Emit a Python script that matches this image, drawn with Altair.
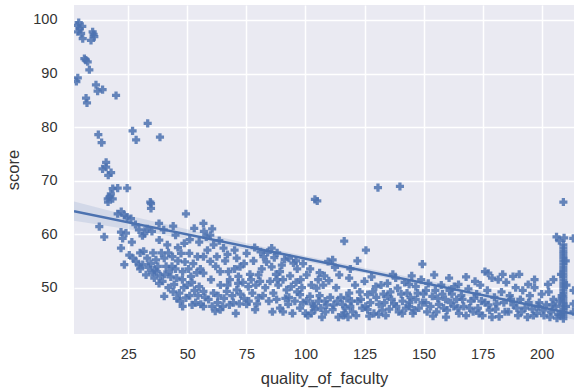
import altair as alt
import pandas as pd

# ---- data (quality_of_faculty, score) ----
top_left = [(3.5,99.0),(4.3,98.4),(5,97.5),(3.6,97.8),(4.0,99.5),(5.5,98.8),(9.9,97.8),(10.6,96.9),(9.2,96.2),(10.3,97.3),
            (5.7,96.5),(6.4,92.8),(7.8,92.2),(8.5,90.7),(7.0,92.5),(3.6,89.2),(3.0,88.5),(11.3,87.9),(12,86.7),(14.1,87.0),
            (7.1,85.4),(7.5,84.5),(19.8,85.9),(12.3,78.6),(13.7,77.1),(33.2,80.7),(26.8,79.3),(28.3,77.6),(38.4,78.1),
            (15.6,73.4),(14.1,72.2),(15.6,72.5),(17.7,71.5),(16.5,71.0),(18.4,68.5),(20.5,68.6),(24.5,68.6),(17,66.9),
            (18.4,66.6),(16.4,66.0),(34.3,66.0),(16.3,66.6),(17.6,67.5),(34.6,65.7),(34.6,64.8)]
left = [(49.4,63.8),(20.5,63.8),(23.3,63.5),(26.1,62.9),(24.5,63.2),(22,64.2),(12.7,61.4),(14.8,59.5),(21.9,60.4),
        (22.6,59.2),(21.9,57.4),(31.8,60.1),(31,59.7),(29.5,60.8),(33,61.0),(38.1,58.9),(48.7,58.3),(52.9,61.1),(40,60.8),
        (44,61.5),(45,59.8),(25.4,56.1),(28.3,54.9),(23.3,54.3),(31.1,54.3),(32.5,52.4),(36.7,55.2),(40.2,55.5),(43.7,55.8),
        (47.3,56.4),(50.8,56.4),(54.3,55.8),(36,53.3),(42.3,53),(39.5,51.2),(44.4,50.6),(47.9,51.5),(51.5,52.1),(46.6,49),
        (40.2,48.4),(49.4,48.1),(55.7,46.9),(27,55.5),(29.5,54.2),(30,53.5),(33.5,53.8),(34.5,54.5),(35,52.8),(37.5,54),
        (38.5,52.2),(41,54),(42,56.5),(43,52),(45,53.5),(46,55),(48,53),(49,54.8),(50,50.5),(52,51),(53,49.5),(54,52.8),
        (55,50.2),(44,49.2),(47,47.5),(51,48.5),(53.5,47.2),(42,50),(38,50.8),(36,51.8),(30,56.5),(26.5,58.5),(24,60.2),
        (28,61.8),(35,60.5),(38,62),(41.5,58),(46,57.5),(51,59),(55,58.5),(57,60.5),
        (31.5,56.8),(33,55.5),(35.5,56.5),(37,53),(39,56.5),(40.5,52.5),(43.5,54),(45.5,51.8),(48.5,50),(50.5,53.5),
        (52.5,54.5),(45.5,48),(48,46.5),(52,46.8),(54.5,48.5),(55.5,53.5)]
middle = [(104,66.5),(105,66.2),(56.8,62),(59.7,59.8),(65.3,57.4),(61.1,58),(56.8,55.8),(62.5,55.8),(59.7,54.9),
          (70.9,55.5),(75.1,56.4),(82.2,55.8),(85.7,57.4),(56.8,52.7),(63.9,53),(67.4,53),(72.3,53.9),(71.6,52.1),
          (80.1,52.4),(85.7,53.9),(89.2,53),(94.9,54.6),(91.2,55.3),(100.5,52.4),(105.4,51.5),(56.8,49.3),(61.1,49),
          (66.7,49.3),(70.9,49.6),(75.8,50.2),(80.8,51.2),(85,51.2),(86.4,49),(87.8,47.8),(92,49.6),(97.7,48.7),
          (101.9,48.4),(104.7,49.9),(56.8,46.5),(61.8,45.6),(63.9,45.9),(75.1,46.9),(78.7,45.9),(80.1,48.1),(89.2,46.2),
          (92.7,46.9),(97.7,46.2),(104,45.9),(108.3,47.5),(109.6,54.9),(58.5,57),(60,51.5),(62,54),(64,50.5),(65.5,48),
          (66,55),(68,51.5),(69,48.5),(70,53.5),(72.5,48.8),(73.5,51),(74,54.5),(76.5,52.5),(77.5,49),(78,55),(79,50.5),
          (81.5,53.5),(83,50),(83.5,54.8),(84,56.6),(86.8,55.6),(87.5,52.5),(88.5,50.5),(90,54.2),(90.5,51.5),(91.5,48),
          (93.5,52.2),(94,50.2),(95.5,47.5),(96,51),(96.5,53.5),(98.5,50),(99,47.2),(100,45.2),(102.5,50.5),(103,47),
          (106,48.5),(106.5,46.2),(107.5,50.5),(108.5,45.5),(59,47.8),(62.8,47.2),(67.8,46.8),(70.5,45.2),(72,47),
          (58,59.5),(60.5,61),(63.5,58.8),(67,56.2),(70,57),(78.5,57.5),(81,56.7),(88,56.5),(93,55.5),(96,55),(99,54.5),
          (102,53.5),(106,52.8),(108,52.2),
          (57.5,48.2),(60.5,46.5),(63,48.5),(65,46.5),(67,50.5),(69.5,47.2),(71.5,50.8),(74,48),(76,47.5),(77,51.5),
          (79.5,47),(82,48.5),(84.5,47.5),(86,45.5),(88,51.5),(90.5,45.5),(93,48.2),(94.5,45.2),(96.5,49.2),(98,51.5),
          (100.5,47.5),(102.5,45.2)]
right_mid = [(116.4,58.7),(125.6,57),(149.5,54.4),(154.5,52.4),(160.8,51.8),(111.5,55.2),(114.3,52.4),(118.5,51.8),
             (109.9,51.3),(111.5,45.9),(115.7,46.9),(116.4,45.3),(118.5,49),(122.1,47.5),(126.3,48.7),(126.3,45.9),
             (129.8,50.2),(131.2,46.9),(134.7,48.4),(134.7,50.8),(139,49.9),(141.1,47.5),(143.9,46.5),(146.7,47.8),
             (150.9,47.2),(153.7,48.4),(156.5,46.9),(159.3,47.8),(162.8,46.5),(143.9,50.6),(138.2,51.8),(146.7,50.2),
             (130.7,68.7),(140,68.9),(112.5,53.8),(113,50),(115,48.2),(116,44.8),(117,46.2),(119.5,47.5),(120,45.5),
             (121,50.5),(123,49.2),(124,46.2),(125,51.2),(127.5,47.2),(128,52),(129,45.2),(130,48.2),(132,50.5),
             (132.5,45.8),(133.5,47.2),(135.5,46),(136,49.2),(137,52.5),(137.5,47),(139.5,45.5),(140.5,48.8),(142,51),
             (142.5,46.2),(144.5,48.2),(145,52.2),(145.5,45.2),(147.5,49),(148,46.2),(149,51.5),(150,48.8),(151.5,45.5),
             (152,50.8),(155,49.5),(155.5,45.5),(157.5,50.5),(158,48.8),(160,45.8),(161,49.5),(163,50.2),(164,47.8),
             (165,45.2),(119,53.5),(122,55),(118,44.5),(114,44.5),
             (101,44.8),(103.5,46.5),(105.5,47.5),(107,44.5),(109,46.8),(110.5,48.2),(112,46.8),(113.5,47.5),(117.5,48),
             (119,46.5),(121.5,44.8),(123.5,47.8),(125.5,46.5),(127,44.7),(128.5,49.2),(131,45),(133,48.8),(134,44.8),
             (136.5,47.8),(138.5,46.5),(141,45.2),(143,49),(144,47.2),(146,45.8),(149.5,47.2),(151,49.5),(153,46.5),
             (154,44.7),(156,48),(158.5,46.2),(159.5,44.5),(161.5,47.2),(162,48.8),(164.5,46.2)]
right = [(177.4,52.7),(181.6,51.5),(187.9,52.1),(194.3,50.6),(202.7,50.6),(171.8,51.2),(164.8,50.6),(166,48.5),(167,46.5),
         (168,44.8),(169,49.8),(170,47.5),(171,45.5),(172.5,48.8),(173,46.2),(174,50.5),(175,44.8),(176,47.2),(177,49.5),
         (178,45.8),(179,51.8),(180,48.2),(180.5,46),(182,44.6),(183,49.2),(184,47.2),(185,51),(186,45.5),(186.5,48.5),
         (188,46.8),(189,50),(190,44.8),(191,47.8),(192,49.5),(193,46.2),(194,44.5),(195,48.5),(196,46),(197,50),
         (198,45.2),(199,47.2),(200,48.8),(201,44.8),(202,46.8),(203,49.2),(204,45.5),(205,47.8),(206,46.5),(207,45),
         (176,53),(183.5,52.5),(190.5,52.5),(197,51.5),(168,52),(205,51.5),
         (166.5,47.8),(169.5,46.2),(171.5,48),(173.5,45.2),(174.5,47.5),(177.5,46.8),(179,44.5),(181,47),(184.5,45.5),
         (187,47.8),(189.5,46.2),(191.5,45.5),(194.5,47.2),(196.5,44.8),(198.5,46.5),(200.5,45.8),(203.5,44.5),
         (204.5,46.8),(206.5,44.3),(207.5,47.5)]
column = [(209.2,66.0),(206.3,59.5),(209.5,59.3),(213.4,59.2),(207.5,58.8),
          (209.2,44.2),(209.2,44.8),(209.2,45.4),(209.2,46.0),(209.2,46.6),(209.2,47.2),(209.2,47.8),(209.2,48.4),
          (209.2,49.0),(209.2,49.6),(209.2,50.2),(209.2,50.8),(209.2,51.4),(209.2,52.0),(209.2,52.6),(209.2,53.2),
          (209.2,53.8),(209.2,54.4),(209.2,55.0),(209.2,55.6),(209.2,56.2),(209.2,56.8),(209.2,57.4),(209.2,58.0),
          (208.3,45.0),(210.3,46.5),(208.5,48.5),(210.5,50.5),(208.2,52.5),(210.2,55.0),(213.5,47.0),(213.5,49.5),
          (213.5,45.5)]

# regression line and confidence band
reg_x = [2, 213.7]
reg_y = [64.3, 45.1]
band_x = [2, 25, 50, 75, 100, 125, 150, 175, 200, 213.7]
band_lo = [62.5, 60.9, 59.1, 57.1, 54.9, 52.7, 50.3, 47.8, 45.4, 44.0]
band_hi = [66.1, 63.5, 60.9, 58.3, 55.9, 53.7, 51.5, 49.4, 47.4, 46.2]

pts = top_left + left + middle + right_mid + right + column
df = pd.DataFrame(pts, columns=["quality_of_faculty", "score"])
df_line = pd.DataFrame({"quality_of_faculty": reg_x, "score": reg_y})
df_band = pd.DataFrame({"quality_of_faculty": band_x, "lo": band_lo, "hi": band_hi})

FONT = "Liberation Sans"
TXT = "#333333"
BLUE = "#4C72B0"

xscale = alt.Scale(domain=[2, 213.7], nice=False, zero=False)
yscale = alt.Scale(domain=[41.35, 102.8], nice=False, zero=False)

xaxis = alt.Axis(values=[25, 50, 75, 100, 125, 150, 175, 200], title="quality_of_faculty",
                 grid=True, gridColor="white", gridWidth=1.5, domain=False, ticks=False,
                 labelPadding=13, labelFontSize=14.5, labelColor=TXT, labelFont=FONT,
                 titleFontSize=16.5, titleColor=TXT, titleFont=FONT, titleFontWeight="normal", titlePadding=10)
yaxis = alt.Axis(values=[50, 60, 70, 80, 90, 100], title="score",
                 grid=True, gridColor="white", gridWidth=1.5, domain=False, ticks=False,
                 labelPadding=17, labelFontSize=14.5, labelColor=TXT, labelFont=FONT,
                 titleFontSize=16.5, titleColor=TXT, titleFont=FONT, titleFontWeight="normal", titlePadding=11)

points = alt.Chart(df).mark_point(shape="cross", filled=True, size=66, color=BLUE, opacity=0.85, clip=True).encode(
    x=alt.X("quality_of_faculty:Q", scale=xscale, axis=xaxis),
    y=alt.Y("score:Q", scale=yscale, axis=yaxis),
)
band = alt.Chart(df_band).mark_area(color=BLUE, opacity=0.15, clip=True).encode(
    x=alt.X("quality_of_faculty:Q", scale=xscale),
    y=alt.Y("lo:Q", scale=yscale),
    y2="hi:Q",
)
line = alt.Chart(df_line).mark_line(color=BLUE, strokeWidth=2.5, clip=True).encode(
    x=alt.X("quality_of_faculty:Q", scale=xscale),
    y=alt.Y("score:Q", scale=yscale),
)

chart = alt.layer(points, band, line).properties(
    width=500, height=329,
    autosize=alt.AutoSizeParams(type="none"),
    padding={"left": 74, "top": 5, "right": 0, "bottom": 56},
    background="white",
).configure_view(fill="#EAEAF2", strokeWidth=0)

chart.save("out.html", embed_options={"renderer": "svg", "actions": False})
